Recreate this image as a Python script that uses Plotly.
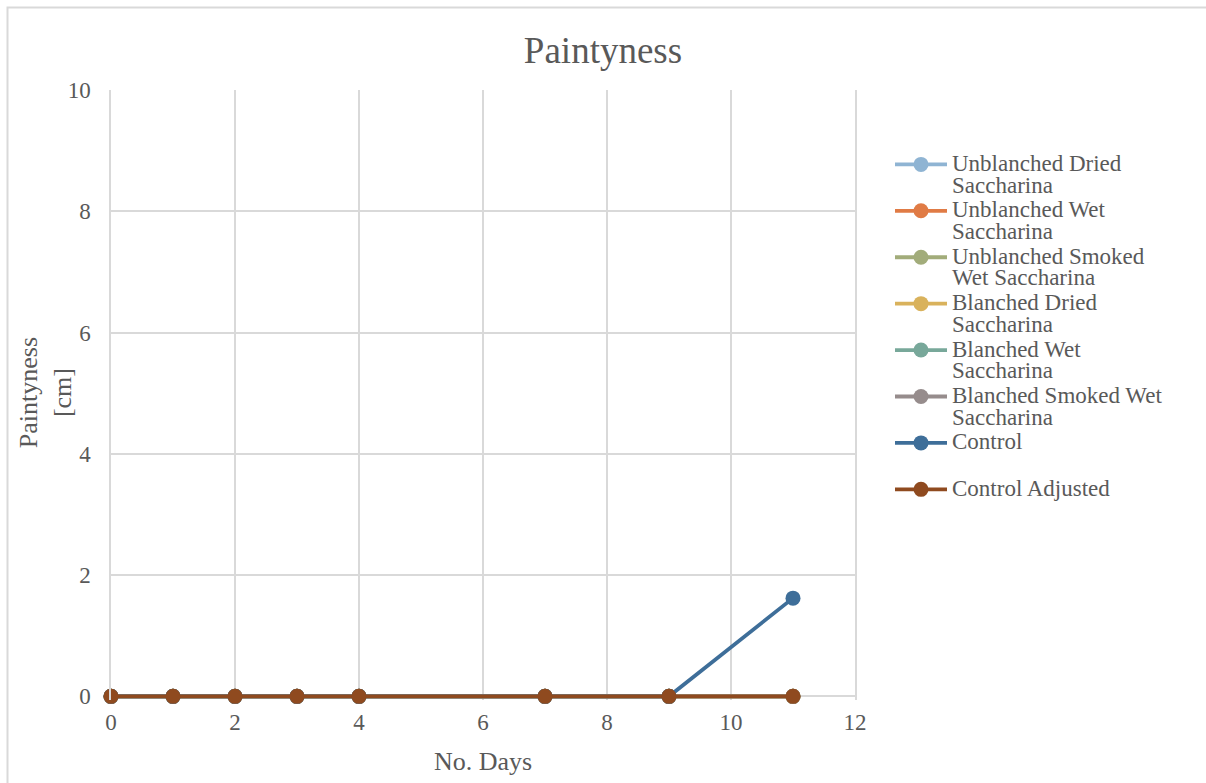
import plotly.graph_objects as go

# Observation days and paintyness readings [cm]
days = [0, 1, 2, 3, 4, 7, 9, 11]

series_names = [
    "Unblanched Dried<br>Saccharina",
    "Unblanched Wet<br>Saccharina",
    "Unblanched Smoked<br>Wet Saccharina",
    "Blanched Dried<br>Saccharina",
    "Blanched Wet<br>Saccharina",
    "Blanched Smoked Wet<br>Saccharina",
    "Control",
    "Control Adjusted",
]

unblanched_dried = [0, 0, 0, 0, 0, 0, 0, 0]
unblanched_wet = [0, 0, 0, 0, 0, 0, 0, 0]
unblanched_smoked = [0, 0, 0, 0, 0, 0, 0, 0]
blanched_dried = [0, 0, 0, 0, 0, 0, 0, 0]
blanched_wet = [0, 0, 0, 0, 0, 0, 0, 0]
blanched_smoked_wet = [0, 0, 0, 0, 0, 0, 0, 0]
control = [0, 0, 0, 0, 0, 0, 0, 1.62]
control_adjusted = [0, 0, 0, 0, 0, 0, 0, 0]

series_values = [
    unblanched_dried, unblanched_wet, unblanched_smoked, blanched_dried,
    blanched_wet, blanched_smoked_wet, control, control_adjusted,
]

colors = ["#8FB4D3", "#E07B45", "#A2AC7A", "#D9B25C",
          "#78A89A", "#968C8C", "#3E6E99", "#8F4A1F"]

TXT = "#595959"
GRID = "#D9D9D9"
FONT = "Liberation Serif"

# a little room below zero so the baseline series is not cut in half
Y_MIN, Y_MAX = -0.06, 10
M_LEFT, M_RIGHT, M_TOP = 111, 351, 90
PX_PER_UNIT = 60.6
M_BOTTOM = 783 - M_TOP - PX_PER_UNIT * (Y_MAX - Y_MIN)
PLOT_W = 1206 - M_LEFT - M_RIGHT
PLOT_H = 783 - M_TOP - M_BOTTOM
PLOT_B = 783 - M_BOTTOM


def px_x(px):
    return (px - M_LEFT) / PLOT_W


def px_y(py):
    return (PLOT_B - py) / PLOT_H


def legend_label(name):
    # larger glyphs on a tighter line pitch
    parts = name.split("<br>")
    if len(parts) == 1:
        parts.append(" ")
    return "<br>".join("<span style='font-size:23px'>%s</span>" % p for p in parts)


fig = go.Figure()
for name, vals, col in zip(series_names, series_values, colors):
    fig.add_trace(go.Scatter(
        x=days, y=vals, name=legend_label(name), mode="lines+markers",
        line=dict(color=col, width=3.8),
        marker=dict(color=col, size=15),
        cliponaxis=False,
    ))

fig.update_layout(
    width=1206, height=783,
    margin=dict(l=M_LEFT, r=M_RIGHT, t=M_TOP, b=M_BOTTOM),
    paper_bgcolor="white", plot_bgcolor="white",
    font=dict(family=FONT, color=TXT, size=23),
    title=dict(text="Paintyness", x=0.5, xref="container", xanchor="center",
               y=1 - 50 / 783, yref="container", yanchor="middle",
               font=dict(size=37, color=TXT, family=FONT)),
    legend=dict(x=px_x(890), xanchor="left", y=px_y(147), yanchor="top",
                valign="top", tracegroupgap=0, itemwidth=52,
                font=dict(size=16.7, color=TXT, family=FONT),
                bgcolor="rgba(0,0,0,0)"),
    showlegend=True,
)

fig.update_xaxes(
    range=[0, 12], dtick=2, tick0=0, showgrid=True, gridcolor=GRID, gridwidth=1.5,
    zeroline=False, showline=False,
    ticks="", tickfont=dict(size=23, color=TXT, family=FONT), ticklabelstandoff=6,
    title=dict(text="No. Days", font=dict(size=26, color=TXT, family=FONT), standoff=17),
)
fig.update_yaxes(
    range=[Y_MIN, Y_MAX], dtick=2, tick0=0, showgrid=True, gridcolor=GRID, gridwidth=1.5,
    zeroline=True, zerolinecolor=GRID, zerolinewidth=1.5,
    showline=True, linecolor=GRID, linewidth=1.5, mirror=True,
    ticks="", tickfont=dict(size=23, color=TXT, family=FONT), ticklabelstandoff=14,
)

# y-axis title, two rotated lines left of the tick labels
fig.add_annotation(
    text="Paintyness<br>[cm]", textangle=-90, showarrow=False,
    xref="paper", yref="paper", x=px_x(45), y=px_y(393),
    xanchor="center", yanchor="middle",
    font=dict(size=26, color=TXT, family=FONT),
)

# chart-area frame
fig.add_shape(type="rect", xref="paper", yref="paper",
              x0=px_x(7.5), x1=px_x(1260), y0=px_y(830), y1=px_y(7.5),
              line=dict(color=GRID, width=2), fillcolor="rgba(0,0,0,0)", layer="below")

fig.write_html("out.html")
